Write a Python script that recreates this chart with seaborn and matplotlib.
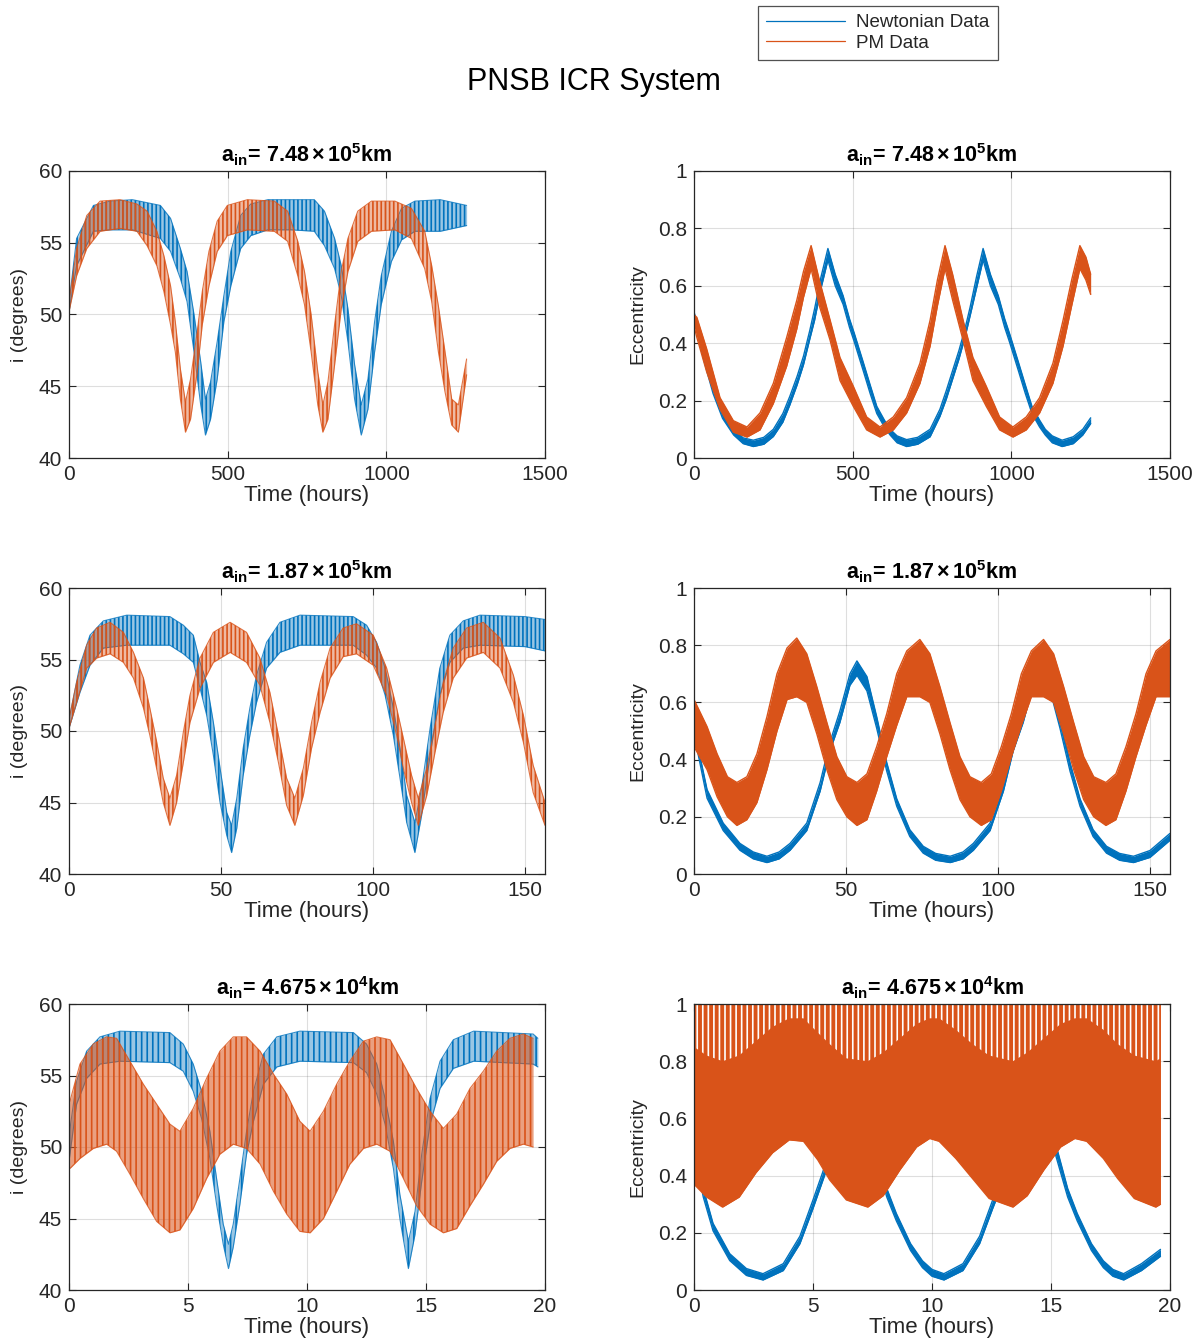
import matplotlib
matplotlib.use("Agg")
import matplotlib.pyplot as plt
from matplotlib import font_manager
from matplotlib.lines import Line2D
import seaborn as sns

# ---------------------------------------------------------------------------
# Inclination envelopes (upper / lower edge of the fast oscillation), degrees
# ---------------------------------------------------------------------------
# a_in = 7.48e5 km
T_INC1_N = [0, 24, 77, 130, 200, 288, 320, 351, 372, 394, 415, 430, 446, 467, 488, 510, 541, 573, 626, 700,
            773, 805, 837, 858, 879, 900, 921, 942, 963, 984, 1016, 1048, 1090, 1170, 1253]
INC1_N_HI = [50.8, 55.3, 57.6, 57.9, 58.0, 57.6, 56.7, 54.6, 53.0, 50.0, 46.7, 44.1, 45.3, 48.1, 51.3, 54.4, 56.9,
             57.7, 58.0, 58.0, 58.0, 57.2, 55.3, 53.4, 50.4, 46.5, 43.7, 45.5, 49.5, 52.7, 55.8, 57.4, 57.9, 58.0, 57.6]
INC1_N_LO = [50.2, 53.4, 55.8, 55.9, 55.9, 55.3, 54.4, 52.5, 50.9, 47.4, 43.7, 41.6, 42.7, 45.5, 49.5, 52.0, 54.6,
             55.5, 55.9, 55.9, 55.8, 54.8, 53.2, 51.3, 48.1, 44.1, 41.6, 43.4, 47.4, 50.7, 53.7, 55.2, 55.8, 55.8, 56.2]

T_INC1_PM = [0, 24, 56, 98, 161, 214, 246, 277, 299, 320, 335, 351, 367, 383, 404, 420, 441, 467, 499, 562, 647,
             689, 721, 742, 763, 784, 800, 816, 837, 858, 879, 910, 953, 1027, 1079, 1121, 1143, 1164, 1185, 1206,
             1227, 1253]
INC1_PM_HI = [50.8, 54.6, 56.9, 57.9, 58.0, 57.7, 57.2, 55.8, 54.1, 52.0, 49.5, 46.2, 43.9, 45.5, 48.8, 51.6, 54.4,
              56.5, 57.6, 58.0, 57.9, 57.2, 55.1, 53.0, 50.0, 46.0, 43.7, 45.3, 49.3, 53.0, 55.3, 57.2, 57.9, 57.9,
              57.4, 55.8, 53.4, 50.6, 47.4, 44.1, 43.7, 46.9]
INC1_PM_LO = [50.2, 52.7, 54.6, 55.8, 56.0, 55.8, 54.8, 53.4, 51.6, 49.3, 47.4, 44.1, 41.8, 42.7, 46.0, 49.3, 52.0,
              54.4, 55.5, 55.9, 55.8, 55.1, 52.7, 50.7, 47.4, 43.7, 41.8, 42.7, 46.5, 50.4, 53.0, 55.1, 55.8, 55.9,
              55.3, 53.2, 50.9, 47.4, 44.6, 42.3, 41.8, 45.8]

# a_in = 1.87e5 km
T_INC2_N = [0, 3.6, 6.9, 11.3, 19, 33.2, 37.6, 40.9, 43.1, 45.3, 47.5, 49.7, 51.9, 53.5, 55.2, 57.3, 59.5, 61.7, 65,
            69.4, 76, 93.5, 97.9, 101.2, 104, 106.7, 108.9, 111.1, 113.8, 116, 118.8, 122, 125.3, 129.7, 135.2,
            150, 156.6]
INC2_N_HI = [50.8, 54.6, 56.7, 57.7, 58.1, 58.0, 57.4, 56.7, 54.8, 53.4, 50.6, 47.4, 44.3, 43.4, 45.3, 48.8, 51.6,
             53.9, 56.2, 57.6, 58.1, 58.0, 57.4, 56.2, 54.4, 51.6, 48.8, 45.5, 43.6, 46.0, 50.2, 54.4, 56.7, 57.7,
             58.1, 58.0, 57.8]
INC2_N_LO = [50.2, 52.7, 54.6, 55.8, 56.0, 56.0, 55.4, 54.8, 53.0, 51.1, 48.3, 45.0, 42.7, 41.5, 43.2, 46.9, 49.7,
             52.0, 54.4, 55.5, 56.0, 56.0, 55.3, 54.4, 52.5, 49.7, 46.7, 43.6, 41.5, 44.1, 48.3, 52.5, 54.8, 55.8,
             56.0, 55.9, 55.6]

T_INC2_PM = [0, 2.5, 5.8, 9.1, 13.5, 17.9, 21.2, 24.5, 26.6, 28.8, 31, 33.2, 35.4, 37.6, 39.8, 43.1, 47.5, 53,
             58.4, 62.8, 66.1, 68.9, 71.6, 74.3, 77.1, 79.8, 82.6, 85.9, 90.2, 94.6, 100.1, 104.5, 107.8, 110,
             112.7, 114.9, 117.7, 120.4, 123.1, 126.4, 130.8, 136.3, 141.8, 146.2, 149.5, 152.7, 156.6]
INC2_PM_HI = [50.8, 53.4, 56.0, 57.2, 57.6, 56.9, 55.5, 53.7, 51.6, 49.3, 46.7, 45.3, 46.9, 49.9, 52.5, 55.1, 56.9,
              57.6, 56.9, 55.1, 52.7, 49.7, 46.7, 45.3, 47.4, 50.6, 53.4, 55.8, 57.2, 57.5, 56.7, 54.4, 51.6, 49.5,
              46.9, 45.3, 47.4, 50.4, 53.4, 55.8, 57.2, 57.6, 56.5, 53.9, 51.1, 47.6, 45.0]
INC2_PM_LO = [50.2, 52.0, 54.4, 55.1, 55.4, 54.8, 53.7, 51.6, 49.7, 47.4, 45.0, 43.4, 45.0, 47.8, 50.6, 53.0, 54.8,
              55.5, 54.8, 53.2, 50.6, 47.8, 44.8, 43.4, 45.5, 48.8, 51.3, 53.7, 55.2, 55.4, 54.6, 52.5, 49.7, 47.4,
              45.0, 43.4, 45.5, 48.5, 51.3, 53.7, 55.1, 55.5, 54.4, 52.0, 49.2, 45.7, 43.4]

# a_in = 4.675e4 km
T_INC3_N = [0, 0.32, 0.74, 1.3, 2.14, 4.24, 4.8, 5.22, 5.57, 5.92, 6.2, 6.48, 6.7, 6.9, 7.18, 7.46, 7.75, 8.17,
            8.73, 9.7, 11.95, 12.5, 12.93, 13.28, 13.63, 13.9, 14.26, 14.54, 14.82, 15.17, 15.59, 16.15, 17,
            19.5, 19.7]
INC3_N_HI = [50.8, 54.6, 56.7, 57.7, 58.1, 58.0, 57.2, 55.8, 53.9, 51.1, 47.8, 44.6, 43.2, 44.6, 47.8, 51.1, 53.9,
             56.5, 57.7, 58.1, 58.0, 57.2, 55.8, 53.4, 50.4, 46.7, 43.4, 45.5, 49.5, 53.4, 56.0, 57.5, 58.1, 57.9,
             57.6]
INC3_N_LO = [49.0, 53.0, 54.8, 55.8, 56.0, 55.9, 55.3, 53.9, 52.0, 49.2, 46.0, 43.2, 41.5, 43.0, 46.0, 49.5, 51.8,
             54.4, 55.6, 56.0, 55.9, 55.2, 53.7, 51.6, 48.5, 45.0, 41.5, 43.9, 47.6, 51.6, 54.1, 55.5, 56.0, 55.8,
             55.6]

T_INC3_PM = [0.04, 0.46, 1.02, 1.58, 2.0, 2.56, 3.12, 3.68, 4.24, 4.66, 5.22, 5.78, 6.34, 6.9, 7.46, 8.03, 8.59,
             9.15, 9.7, 10.13, 10.69, 11.25, 11.8, 12.37, 12.93, 13.49, 14.05, 14.6, 15.17, 15.73, 16.29, 16.85,
             17.41, 17.97, 18.53, 19.09, 19.5]
INC3_PM_HI = [53.2, 55.8, 57.2, 57.7, 57.6, 56.0, 54.4, 53.0, 51.6, 51.1, 52.7, 54.8, 56.7, 57.7, 57.7, 56.7, 55.1,
              53.7, 51.8, 51.1, 52.5, 54.4, 56.0, 57.4, 57.7, 57.5, 55.8, 54.1, 52.5, 51.3, 52.3, 54.1, 55.3, 56.7,
              57.6, 57.9, 57.6]
INC3_PM_LO = [48.5, 49.2, 49.9, 50.2, 49.7, 48.1, 46.4, 44.8, 44.0, 44.2, 45.7, 47.8, 49.5, 50.2, 49.9, 48.8, 46.9,
              45.3, 44.1, 44.0, 45.0, 46.9, 48.8, 49.9, 50.2, 49.7, 47.8, 45.9, 44.6, 44.0, 44.3, 45.9, 47.4, 49.0,
              49.9, 50.2, 50.0]

# ---------------------------------------------------------------------------
# Eccentricity envelopes
# ---------------------------------------------------------------------------
T_ECC1_N = [0, 30, 60, 90, 125, 155, 187, 220, 250, 280, 302, 325, 345, 365, 380, 400, 422, 445, 470, 490, 505,
            533, 555, 576, 600, 618, 640, 670, 705, 744, 775, 795, 815, 835, 855, 870, 890, 911, 934, 959, 979,
            994, 1022, 1044, 1065, 1089, 1107, 1129, 1160, 1195, 1225, 1250]
ECC1_N_HI = [.51, .375, .255, .162, .10, .07, .062, .072, .10, .155, .215, .285, .355, .445, .52, .63, .73, .64,
             .565, .485, .435, .335, .255, .18, .132, .10, .077, .064, .072, .10, .17, .235, .305, .375, .455, .525,
             .63, .73, .64, .565, .485, .435, .335, .255, .18, .132, .10, .077, .062, .074, .10, .14]
ECC1_N_LO = [.49, .345, .225, .138, .08, .05, .04, .048, .075, .125, .185, .255, .325, .415, .48, .59, .69, .60,
             .535, .455, .405, .305, .225, .155, .108, .08, .053, .04, .048, .074, .145, .205, .275, .345, .425,
             .495, .59, .69, .60, .535, .455, .405, .305, .225, .155, .108, .08, .053, .04, .05, .08, .12]

T_ECC1_PM = [0, 9, 40, 82, 124, 167, 208, 250, 292, 324, 345, 369, 395, 429, 460, 502, 544, 586, 628, 670, 712,
             744, 767, 791, 815, 848, 879, 921, 963, 1005, 1047, 1089, 1131, 1163, 1190, 1216, 1235, 1250]
ECC1_PM_HI = [.50, .49, .38, .21, .13, .108, .157, .26, .42, .55, .65, .74, .62, .48, .35, .25, .143, .108, .143,
              .21, .33, .48, .62, .74, .64, .48, .35, .25, .143, .108, .143, .21, .33, .48, .62, .74, .70, .64]
ECC1_PM_LO = [.46, .42, .30, .17, .09, .073, .098, .19, .32, .45, .56, .66, .53, .41, .27, .18, .098, .073, .098,
              .157, .26, .39, .53, .66, .55, .41, .27, .18, .098, .073, .098, .157, .26, .39, .53, .66, .62, .57]

T_ECC2_N = [0, 4.3, 9.6, 15.1, 19.5, 24, 28, 31.6, 37.1, 41.5, 44.7, 48, 51.3, 53.6, 56.9, 60.1, 63.4, 66.7, 71,
            75.4, 79.5, 84.3, 88.5, 91.9, 97.4, 101.8, 105, 108.3, 111.6, 113.9, 117.2, 120.4, 123.7, 127, 131.3,
            135.7, 140, 144.6, 150, 156.6]
ECC2_N_HI = [.51, .295, .178, .107, .077, .062, .077, .107, .178, .32, .46, .57, .70, .745, .69, .55, .39, .263,
             .155, .097, .072, .062, .077, .107, .178, .32, .46, .57, .70, .745, .69, .55, .39, .263, .155, .097,
             .072, .062, .082, .142]
ECC2_N_LO = [.49, .265, .152, .083, .053, .04, .053, .083, .152, .29, .43, .53, .66, .695, .64, .51, .36, .237,
             .131, .073, .048, .04, .053, .083, .152, .29, .43, .53, .66, .695, .64, .51, .36, .237, .131, .073,
             .048, .04, .058, .118]

T_ECC2_PM = [0, 4.3, 7.6, 11, 14.1, 17.4, 20.7, 24, 27.3, 30.6, 33.8, 37.1, 40.4, 43.7, 47, 50.3, 53.6, 56.9,
             60.1, 63.4, 66.7, 70, 74.3, 77.6, 80.9, 84.2, 87.5, 90.8, 94.5, 97.8, 101.1, 104.4, 107.7, 111, 115,
             118.3, 121.6, 124.9, 128.2, 131.5, 135.5, 138.8, 142.1, 145.4, 148.7, 152, 156.6]
ECC2_PM_HI = [.61, .515, .42, .34, .32, .34, .42, .55, .70, .79, .825, .77, .655, .53, .41, .34, .32, .35, .445,
              .56, .70, .78, .82, .77, .655, .53, .41, .34, .32, .35, .445, .56, .70, .78, .82, .77, .655, .53,
              .41, .34, .32, .35, .445, .56, .70, .78, .82]
ECC2_PM_LO = [.445, .365, .27, .20, .17, .19, .25, .365, .50, .61, .62, .60, .49, .365, .26, .20, .17, .19, .29,
              .41, .52, .62, .62, .60, .49, .365, .26, .20, .17, .19, .29, .41, .52, .62, .62, .60, .49, .365, .26,
              .20, .17, .19, .29, .41, .52, .62, .62]

T_ECC3_N = [0, 0.39, 0.8, 1.5, 2.2, 2.9, 3.75, 4.45, 5.0, 5.4, 5.9, 6.3, 6.7, 7.1, 7.6, 8.1, 8.5, 9.1, 9.6, 10.0,
            10.5, 11.3, 12.0, 12.55, 13.0, 13.5, 13.9, 14.3, 14.7, 15.2, 15.7, 16.1, 16.7, 17.2, 17.6, 18.05,
            18.8, 19.6]
ECC3_N_HI = [.51, .355, .233, .127, .075, .057, .092, .188, .315, .41, .54, .665, .745, .665, .51, .355, .268,
             .162, .102, .072, .057, .092, .188, .315, .41, .54, .665, .745, .665, .51, .355, .268, .162, .102,
             .072, .057, .092, .142]
ECC3_N_LO = [.49, .325, .207, .103, .051, .035, .068, .162, .285, .38, .50, .615, .695, .615, .47, .325, .242,
             .138, .078, .048, .035, .068, .162, .285, .38, .50, .615, .695, .615, .47, .325, .242, .138, .078,
             .048, .035, .068, .118]

T_ECC3_PM = [0, 0.53, 1.2, 1.9, 2.6, 3.3, 4.0, 4.6, 5.2, 5.7, 6.4, 7.3, 7.95, 8.65, 9.35, 9.9, 10.3, 11.0, 11.7,
             12.4, 13.4, 14.0, 14.7, 15.4, 16.0, 16.5, 17.2, 17.8, 18.5, 19.4, 19.6]
ECC3_PM_HI = [1.0] * len(T_ECC3_PM)
ECC3_PM_LO = [.37, .325, .29, .325, .41, .48, .525, .52, .455, .385, .315, .29, .33, .42, .50, .53, .52, .46, .39,
              .32, .29, .33, .42, .50, .53, .52, .46, .39, .32, .29, .30]
# lowest reach of the oscillation troughs that dip below the top of the axis
ECC3_PM_TROUGH = [.85, .82, .80, .82, .87, .92, .95, .95, .90, .86, .81, .80, .83, .88, .93, .95, .95, .91, .86,
                  .82, .80, .83, .88, .93, .95, .95, .91, .86, .82, .80, .81]

# ---------------------------------------------------------------------------
# Labels and ticks
# ---------------------------------------------------------------------------
PANEL_TITLES = [r"$\mathbf{a_{in}\!=\,7.48\,{\times}\,10^{5}km}$",
                r"$\mathbf{a_{in}\!=\,1.87\,{\times}\,10^{5}km}$",
                r"$\mathbf{a_{in}\!=\,4.675\,{\times}\,10^{4}km}$"]
X_LIMITS = [(0, 1500), (0, 156.6), (0, 20)]
X_TICKS = [[0, 500, 1000, 1500], [0, 50, 100, 150], [0, 5, 10, 15, 20]]
INC_TICKS = [40, 45, 50, 55, 60]
ECC_TICKS = [0, 0.2, 0.4, 0.6, 0.8, 1]
ECC_TICK_LABELS = ["0", "0.2", "0.4", "0.6", "0.8", "1"]
SERIES_NAMES = ["Newtonian Data", "PM Data"]

INC_SERIES = [
    ((T_INC1_N, INC1_N_HI, INC1_N_LO), (T_INC1_PM, INC1_PM_HI, INC1_PM_LO), "||||", 0.4),
    ((T_INC2_N, INC2_N_HI, INC2_N_LO), (T_INC2_PM, INC2_PM_HI, INC2_PM_LO), "||||", 0.4),
    ((T_INC3_N, INC3_N_HI, INC3_N_LO), (T_INC3_PM, INC3_PM_HI, INC3_PM_LO), "|||", 0.55),
]
ECC_SERIES = [
    ((T_ECC1_N, ECC1_N_HI, ECC1_N_LO), (T_ECC1_PM, ECC1_PM_HI, ECC1_PM_LO)),
    ((T_ECC2_N, ECC2_N_HI, ECC2_N_LO), (T_ECC2_PM, ECC2_PM_HI, ECC2_PM_LO)),
    ((T_ECC3_N, ECC3_N_HI, ECC3_N_LO), (T_ECC3_PM, ECC3_PM_HI, ECC3_PM_LO)),
]

# ---------------------------------------------------------------------------
# Style
# ---------------------------------------------------------------------------
sns.set_theme(style="ticks")
plt.rcParams["font.family"] = ["Liberation Sans", "DejaVu Sans"]
plt.rcParams["mathtext.fontset"] = "custom"
plt.rcParams["mathtext.rm"] = "Liberation Sans"
plt.rcParams["mathtext.bf"] = "Liberation Sans:bold"
plt.rcParams["mathtext.it"] = "Liberation Sans:italic"
plt.rcParams["hatch.linewidth"] = 1.2

_installed = {f.name for f in font_manager.fontManager.ttflist}
YLABEL_FAMILY = ["Liberation Sans Narrow"] if "Liberation Sans Narrow" in _installed else ["Liberation Sans"]

BLUE = "#0072BD"
ORANGE = "#D95319"
INK = "#262626"

FIG_W, FIG_H = 1204, 1339
fig = plt.figure(figsize=(FIG_W / 100, FIG_H / 100), dpi=100)


def axes_box(left, top, right, bottom):
    return [left / FIG_W, 1 - bottom / FIG_H, (right - left) / FIG_W, (bottom - top) / FIG_H]


ROW_PIX = [(171, 458), (588, 874), (1004, 1290)]
COL_PIX = [(69, 545), (694, 1170)]


def draw_band(ax, t, hi, lo, color, z, hatch=None, face_alpha=1.0, edge_lw=0.9, edge_alpha=1.0):
    ax.fill_between(t, lo, hi, facecolor=color, alpha=face_alpha, linewidth=0, zorder=z)
    if hatch:
        ax.fill_between(t, lo, hi, facecolor="none", edgecolor=color, hatch=hatch, linewidth=0,
                        zorder=z + 0.01)
    for edge in (hi, lo):
        sns.lineplot(x=t, y=edge, ax=ax, color=color, linewidth=edge_lw, alpha=edge_alpha,
                     estimator=None, sort=False, legend=False, zorder=z + 0.02)


def style_axes(ax, xlim, xticks):
    ax.set_xlim(*xlim)
    ax.set_xticks(xticks)
    ax.grid(True, color=INK, alpha=0.15, linewidth=0.8)
    ax.set_axisbelow(True)
    ax.tick_params(direction="in", top=True, right=True, length=5, width=0.8,
                   colors=INK, labelsize=15, pad=5)
    for sp in ax.spines.values():
        sp.set_visible(True)
        sp.set_color(INK)
        sp.set_linewidth(0.9)
        sp.set_zorder(5)
    ax.set_xlabel("Time (hours)", fontsize=16, color=INK, labelpad=1)


for row in range(3):
    top, bottom = ROW_PIX[row]

    # inclination
    ax = fig.add_axes(axes_box(COL_PIX[0][0], top, COL_PIX[0][1], bottom))
    newt, pm, hatch, pm_alpha = INC_SERIES[row]
    draw_band(ax, *newt, BLUE, 2.0, hatch=hatch, face_alpha=0.4, edge_lw=0.8, edge_alpha=0.8)
    draw_band(ax, *pm, ORANGE, 2.1, hatch=hatch, face_alpha=pm_alpha, edge_lw=0.8, edge_alpha=0.8)
    style_axes(ax, X_LIMITS[row], X_TICKS[row])
    ax.set_ylim(40, 60)
    ax.set_yticks(INC_TICKS)
    ax.set_ylabel("i (degrees)", fontsize=14, color=INK, family=YLABEL_FAMILY, labelpad=8)
    ax.set_title(PANEL_TITLES[row], fontsize=15.5, color="black", pad=6)

    # eccentricity
    ax = fig.add_axes(axes_box(COL_PIX[1][0], top, COL_PIX[1][1], bottom))
    newt, pm = ECC_SERIES[row]
    draw_band(ax, *newt, BLUE, 2.0, face_alpha=1.0, edge_lw=1.0)
    draw_band(ax, *pm, ORANGE, 2.1, face_alpha=1.0, edge_lw=1.0)
    if row == 2:
        # white gaps between the dense oscillation peaks near e = 1
        ax.fill_between(T_ECC3_PM, ECC3_PM_TROUGH, ECC3_PM_HI, facecolor="none", edgecolor="white",
                        hatch="|||", linewidth=0, zorder=2.2)
    style_axes(ax, X_LIMITS[row], X_TICKS[row])
    ax.set_ylim(0, 1)
    ax.set_yticks(ECC_TICKS)
    ax.set_yticklabels(ECC_TICK_LABELS)
    ax.set_ylabel("Eccentricity", fontsize=14, color=INK, family=YLABEL_FAMILY, labelpad=8)
    ax.set_title(PANEL_TITLES[row], fontsize=15.5, color="black", pad=6)

fig.text(594 / FIG_W, 1 - 82 / FIG_H, "PNSB ICR System", ha="center", va="center",
         fontsize=22, color="black")

handles = [Line2D([], [], color=BLUE, linewidth=0.9), Line2D([], [], color=ORANGE, linewidth=0.9)]
leg = fig.legend(handles, SERIES_NAMES, loc="center", bbox_to_anchor=(878 / FIG_W, 1 - 33 / FIG_H),
                 fontsize=13.5, frameon=True, fancybox=False, edgecolor=INK, handlelength=4.2,
                 borderpad=0.45, labelspacing=0.2, handletextpad=0.6)
leg.get_frame().set_linewidth(0.9)
for txt in leg.get_texts():
    txt.set_color(INK)

fig.savefig("out.png", dpi=100, facecolor="white")
